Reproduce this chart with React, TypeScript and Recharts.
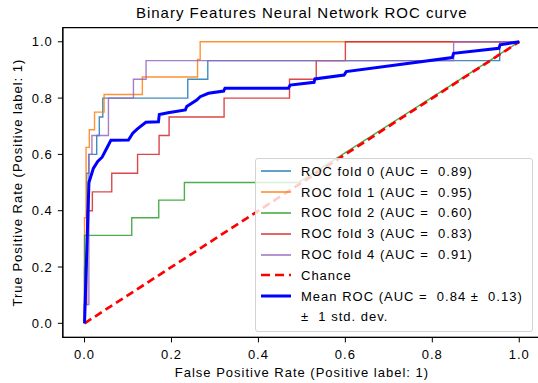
import { LineChart, Line, XAxis, YAxis, ReferenceArea } from 'recharts';

type Pt = [number, number];

// ROC curves per fold, [fpr, tpr]
const fold0: Pt[] = [
  [0, 0], [0, 0.2], [0.005, 0.2], [0.005, 0.533], [0.01, 0.533], [0.01, 0.6],
  [0.028, 0.6], [0.028, 0.667], [0.034, 0.667], [0.034, 0.733], [0.042, 0.733],
  [0.042, 0.8], [0.2375, 0.8], [0.2375, 0.867], [0.2835, 0.867], [0.2835, 0.933],
  [0.955, 0.933], [0.955, 1], [1, 1],
];
const fold1: Pt[] = [
  [0, 0], [0, 0.375], [0.0035, 0.375], [0.0035, 0.625], [0.011, 0.625], [0.011, 0.6875],
  [0.023, 0.6875], [0.023, 0.75], [0.045, 0.75], [0.045, 0.8125], [0.133, 0.8125],
  [0.133, 0.875], [0.26, 0.875], [0.26, 0.9375], [0.266, 0.9375], [0.266, 1], [1, 1],
];
const fold2: Pt[] = [
  [0, 0], [0, 0.3125], [0.1086, 0.3125], [0.1086, 0.375], [0.1707, 0.375],
  [0.1707, 0.4375], [0.2297, 0.4375], [0.2297, 0.5], [0.492, 0.5], [1, 1],
];
const fold3: Pt[] = [
  [0, 0], [0, 0.067], [0.005, 0.067], [0.005, 0.4], [0.018, 0.4], [0.018, 0.467],
  [0.0626, 0.467], [0.0626, 0.533], [0.122, 0.533], [0.122, 0.6], [0.1715, 0.6],
  [0.1715, 0.667], [0.1945, 0.667], [0.1945, 0.733], [0.321, 0.733], [0.321, 0.8],
  [0.4715, 0.8], [0.4715, 0.867], [0.533, 0.867], [0.533, 0.933], [0.6, 0.933],
  [0.6, 1], [1, 1],
];
const fold4: Pt[] = [
  [0, 0], [0, 0.067], [0.01, 0.067], [0.01, 0.6], [0.017, 0.6], [0.017, 0.667],
  [0.055, 0.667], [0.055, 0.8], [0.1125, 0.8], [0.1125, 0.867], [0.1415, 0.867],
  [0.1415, 0.933], [0.849, 0.933], [0.849, 1], [1, 1],
];
const chance: Pt[] = [[0, 0], [1, 1]];
const meanRoc: Pt[] = [
  [0, 0], [0.0101, 0.5], [0.0202, 0.55], [0.0303, 0.575], [0.0404, 0.59],
  [0.0505, 0.62], [0.0606, 0.65], [0.101, 0.651], [0.111, 0.675], [0.121, 0.69],
  [0.141, 0.714], [0.17, 0.716], [0.172, 0.742], [0.192, 0.748], [0.232, 0.758],
  [0.235, 0.77], [0.258, 0.793], [0.266, 0.805], [0.285, 0.817], [0.32, 0.825],
  [0.323, 0.835], [0.469, 0.835], [0.473, 0.846], [0.528, 0.856], [0.53, 0.868],
  [0.597, 0.882], [0.602, 0.894], [0.846, 0.944], [0.849, 0.959], [0.953, 0.977],
  [0.956, 0.989], [1, 1],
];

const foldNames = [
  'ROC fold 0 (AUC =  0.89)',
  'ROC fold 1 (AUC =  0.95)',
  'ROC fold 2 (AUC =  0.60)',
  'ROC fold 3 (AUC =  0.83)',
  'ROC fold 4 (AUC =  0.91)',
];
const foldColors = ['#1f77b4', '#ff7f0e', '#2ca02c', '#d62728', '#9467bd'];
const folds = [fold0, fold1, fold2, fold3, fold4];
const ticks = [0, 0.2, 0.4, 0.6, 0.8, 1];

const FONT = '"Liberation Sans", Arial, sans-serif';
const toRows = (pts: Pt[]) => pts.map(([fpr, tpr]) => ({ fpr, tpr }));

function Handle({ color, width, dash }: { color: string; width: number; dash?: string }) {
  return (
    <svg width={34} height={10} style={{ flexShrink: 0 }}>
      <line x1={2} y1={5} x2={32} y2={5} stroke={color} strokeWidth={width} strokeDasharray={dash} />
    </svg>
  );
}

function RocLegend() {
  const rows: { label: string; color: string; width: number; dash?: string }[] = [
    ...foldNames.map((label, i) => ({ label, color: foldColors[i], width: 1.4 })),
    { label: 'Chance', color: '#ff0000', width: 2.6, dash: '9 5' },
    { label: 'Mean ROC (AUC =  0.84 ±  0.13)', color: '#0000ff', width: 3 },
    { label: '±  1 std. dev.', color: 'transparent', width: 0 },
  ];
  return (
    <div
      style={{
        position: 'absolute', left: 255, top: 158, width: 276, height: 170,
        border: '1px solid #d3d3d3', borderRadius: 3, background: 'rgba(255,255,255,0.8)',
        fontFamily: FONT, fontSize: 13, letterSpacing: 1, color: '#000',
        paddingTop: 2, boxSizing: 'content-box',
      }}
    >
      {rows.map((r) => (
        <div key={r.label} style={{ display: 'flex', alignItems: 'center', height: 20.8, paddingLeft: 3 }}>
          <Handle color={r.color} width={r.width} dash={r.dash} />
          <span style={{ whiteSpace: 'pre', marginLeft: 8 }}>{r.label}</span>
        </div>
      ))}
    </div>
  );
}

export default function App() {
  const tickStyle = { fill: '#000', fontSize: 13, fontFamily: FONT, letterSpacing: 1 };
  return (
    <div style={{ position: 'absolute', left: 0, top: 0, width: 538, height: 383, overflow: 'hidden', background: '#fff' }}>
      <div
        style={{
          position: 'absolute', left: 62.8, top: 4, width: 478, textAlign: 'center',
          fontFamily: FONT, fontSize: 15, letterSpacing: 1, color: '#000', whiteSpace: 'pre',
        }}
      >
        Binary Features Neural Network ROC curve
      </div>
      <LineChart width={541} height={383} margin={{ top: 27.7, right: 0, bottom: 0, left: 0 }}>
        <XAxis
          dataKey="fpr"
          type="number"
          domain={[-0.05, 1.05]}
          ticks={ticks}
          tickFormatter={(v: number) => v.toFixed(1)}
          allowDataOverflow
          height={45.6}
          tickSize={5}
          tickMargin={7}
          stroke="#000"
          tick={tickStyle}
          label={{
            value: 'False Positive Rate (Positive label: 1)', position: 'insideBottom', offset: 6.5,
            style: { fill: '#000', fontSize: 13, fontFamily: FONT, letterSpacing: 1 },
          }}
        />
        <YAxis
          dataKey="tpr"
          type="number"
          domain={[-0.05, 1.05]}
          ticks={ticks}
          tickFormatter={(v: number) => v.toFixed(1)}
          allowDataOverflow
          width={62.8}
          tickSize={5}
          tickMargin={5}
          stroke="#000"
          tick={tickStyle}
          label={{
            value: 'True Positive Rate (Positive label: 1)', angle: -90, position: 'insideLeft', offset: 17,
            style: { textAnchor: 'middle', fill: '#000', fontSize: 13, fontFamily: FONT, letterSpacing: 1 },
          }}
        />
        <ReferenceArea x1={-0.05} x2={1.05} y1={-0.05} y2={1.05} fill="none" stroke="#000" strokeWidth={1.3} ifOverflow="visible" />
        {folds.map((f, i) => (
          <Line
            key={foldNames[i]}
            data={toRows(f)}
            dataKey="tpr"
            name={foldNames[i]}
            type="linear"
            stroke={foldColors[i]}
            strokeOpacity={0.85}
            strokeWidth={1.4}
            dot={false}
            activeDot={false}
            isAnimationActive={false}
          />
        ))}
        <Line
          data={toRows(chance)}
          dataKey="tpr"
          name="Chance"
          type="linear"
          stroke="#ff0000"
          strokeWidth={2.7}
          strokeDasharray="8 4.5"
          dot={false}
          activeDot={false}
          isAnimationActive={false}
        />
        <Line
          data={toRows(meanRoc)}
          dataKey="tpr"
          name="Mean ROC"
          type="linear"
          stroke="#0000ff"
          strokeWidth={3}
          dot={false}
          activeDot={false}
          isAnimationActive={false}
        />
      </LineChart>
      <RocLegend />
    </div>
  );
}
